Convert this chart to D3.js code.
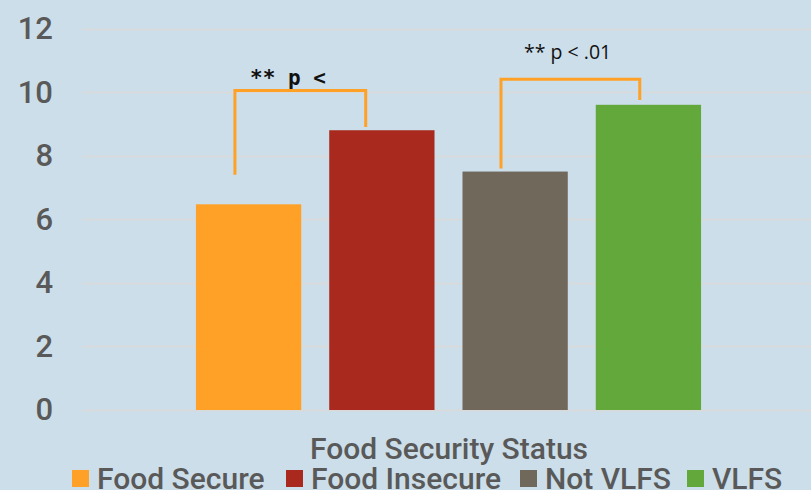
<!DOCTYPE html>
<head>
  <meta charset="utf-8">
  <script src="https://d3js.org/d3.v7.min.js"></script>
  <style>
    body { margin:0; background:#ccdee9; }
    svg text { fill:#595959; font-family:Roboto, "Liberation Sans", sans-serif; font-weight:500; }
  </style>
</head>
<body>
  <div class="bar-chart"></div>
  <script>
    const categories = ['Food Secure', 'Food Insecure', 'Not VLFS', 'VLFS'];
    const values = [6.47, 8.8, 7.5, 9.6];
    const colors = ['#ffa126', '#a9291e', '#70685a', '#63a83b'];
    const yTicks = [0, 2, 4, 6, 8, 10, 12];
    const axisTitle = 'Food Security Status';
    // significance brackets: from bar, to bar, top, left leg bottom, right leg bottom, label
    const brackets = [
      { from: 0, to: 1, top: 10.05, left: 7.4, right: 8.9, label: '** p <' },
      { from: 2, to: 3, top: 10.4, left: 7.6, right: 9.75, label: '** p < .01' }
    ];

    const width = 811, height = 490;

    const svg = d3.select('.bar-chart')
      .append('svg')
        .attr('width', width)
        .attr('height', height);

    const x = d3.scaleBand()
      .domain(categories)
      .range([82, 815])
      .paddingInner(0.21)
      .paddingOuter(0.855);

    const y = d3.scaleLinear()
      .domain([0, 12])
      .range([410, 28.5]);

    // gridlines
    svg.append('g')
      .selectAll('line')
      .data(yTicks)
      .enter()
      .append('line')
        .attr('x1', 82)
        .attr('x2', width)
        .attr('y1', d => Math.round(y(d)) + 0.5)
        .attr('y2', d => Math.round(y(d)) + 0.5)
        .style('stroke', '#d9d9d9')
        .style('stroke-width', 1.5);

    // y axis labels
    const yAxis = svg.append('g')
      .attr('transform', 'translate(53,0)')
      .call(d3.axisLeft(y).tickValues(yTicks).tickSize(0).tickPadding(0));
    yAxis.select('.domain').remove();
    yAxis.selectAll('text')
      .style('font-size', '31px')
      .style('font-family', 'Roboto, sans-serif')
      .attr('fill', '#595959');

    // bars
    svg.selectAll('.bar')
      .data(values)
      .enter()
      .append('rect')
        .attr('class', 'bar')
        .attr('x', (d, i) => x(categories[i]))
        .attr('y', d => y(d))
        .attr('width', x.bandwidth())
        .attr('height', d => y(0) - y(d))
        .style('fill', (d, i) => colors[i]);

    // brackets
    brackets.forEach((b, k) => {
      const l = x(categories[b.from]) + (k === 0 ? 39 : 38.5);
      const r = x(categories[b.to]) + (k === 0 ? 36.5 : 44);
      svg.append('path')
        .attr('d', `M${l},${y(b.left)}V${y(b.top)}H${r}V${y(b.right)}`)
        .style('fill', 'none')
        .style('stroke', '#ffa126')
        .style('stroke-width', 3);
    });

    svg.append('text')
      .attr('x', 250)
      .attr('y', 85)
      .text(brackets[0].label)
      .style('font-family', '"DejaVu Sans Mono", monospace')
      .style('font-weight', 'bold')
      .style('font-size', '21px')
      .style('fill', '#111');

    svg.append('text')
      .attr('x', 524)
      .attr('y', 59)
      .text(brackets[1].label)
      .style('font-family', '"Open Sans", sans-serif')
      .style('font-weight', 'normal')
      .style('font-size', '19.5px')
      .style('fill', '#111');

    // axis title
    svg.append('text')
      .attr('x', 449)
      .attr('y', 459)
      .attr('text-anchor', 'middle')
      .style('font-size', '30px')
      .text(axisTitle);

    // legend
    const legendX = [72, 286, 520, 687];
    const legend = svg.selectAll('.legend')
      .data(categories)
      .enter()
      .append('g')
        .attr('class', 'legend')
        .attr('transform', (d, i) => `translate(${legendX[i]},470)`);
    legend.append('rect')
      .attr('width', 17)
      .attr('height', 17)
      .style('fill', (d, i) => colors[i]);
    legend.append('text')
      .attr('x', 25)
      .attr('y', 19)
      .style('font-size', '30px')
      .text(d => d);
  </script>
</body>
</html>
